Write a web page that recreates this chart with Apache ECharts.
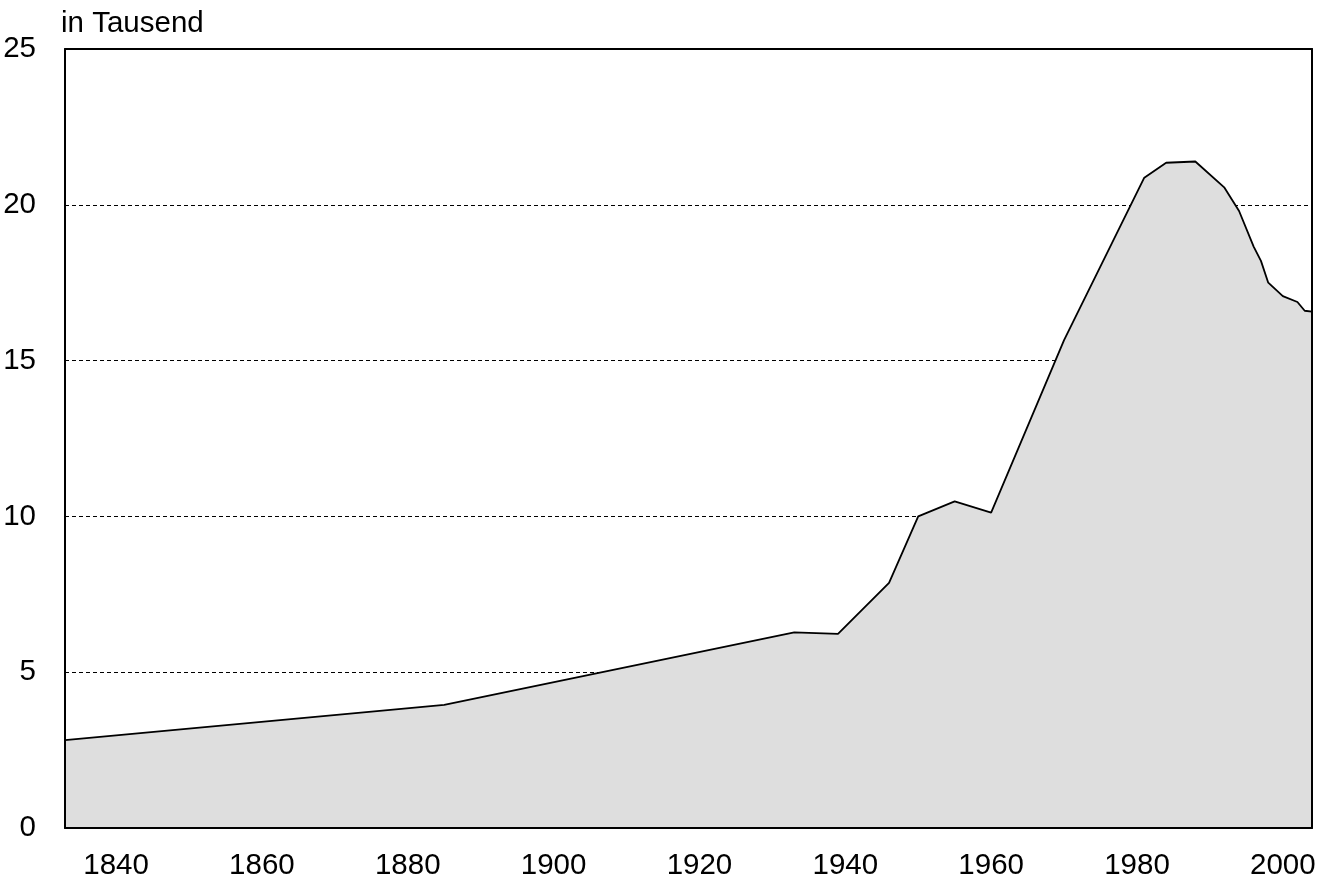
<!DOCTYPE html>
<html>
<head>
<meta charset="utf-8">
<script src="https://cdn.jsdelivr.net/npm/echarts@6/dist/echarts.min.js"></script>
<style>
  html, body { margin: 0; padding: 0; background: #fff; }
  #chart { width: 1320px; height: 885px; }
</style>
</head>
<body>
<div id="chart"></div>
<script>
// Werte (in Tausend)
const years = [1833, 1885, 1933, 1939, 1946, 1950, 1955, 1960, 1970, 1981, 1984, 1988,
  1992, 1994, 1996, 1997, 1998, 2000, 2002, 2003, 2004]
const values = [2.82, 3.95, 6.28, 6.23, 7.87, 10.0, 10.48, 10.12, 15.66, 20.87, 21.35, 21.39,
  20.55, 19.8, 18.66, 18.2, 17.5, 17.07, 16.88, 16.6, 16.57]
const xTicks = [1840, 1860, 1880, 1900, 1920, 1940, 1960, 1980, 2000]
const yTicks = [0, 5, 10, 15, 20, 25]

const font = "'Liberation Sans', Arial, sans-serif"
const frameLine = { show: true, onZero: false, lineStyle: { color: '#000', width: 2 } }

const chart = echarts.init(document.getElementById('chart'))

chart.setOption({
  animation: false,
  textStyle: { fontFamily: font },
  grid: { left: 65, right: 8, top: 49, bottom: 57 },
  xAxis: [
    {
      type: 'value',
      position: 'bottom',
      min: years[0],
      max: years[years.length - 1],
      z: 5,
      axisLine: frameLine,
      axisTick: { show: false },
      splitLine: { show: false },
      axisLabel: {
        customValues: xTicks,
        formatter: v => String(v),
        color: '#000',
        fontSize: 29.5,
        margin: 23,
        fontFamily: font,
      },
    },
    {
      type: 'value',
      position: 'top',
      min: years[0],
      max: years[years.length - 1],
      z: 5,
      axisLine: frameLine,
      axisTick: { show: false },
      axisLabel: { show: false },
      splitLine: { show: false },
    },
  ],
  yAxis: [
    {
      type: 'value',
      position: 'left',
      min: yTicks[0],
      max: yTicks[yTicks.length - 1],
      interval: 5,
      name: 'in Tausend',
      nameLocation: 'end',
      nameGap: 10,
      nameTextStyle: {
        color: '#000',
        fontSize: 29.5,
        fontFamily: font,
        align: 'left',
        padding: [0, 0, 0, -4],
      },
      axisLine: { show: false },
      axisTick: { show: false },
      axisLabel: { color: '#000', fontSize: 29.5, margin: 29, fontFamily: font },
      splitLine: { show: true, lineStyle: { color: '#000', width: 1, type: [4, 3] } },
    },
    {
      type: 'value',
      position: 'left',
      min: 0,
      max: 25,
      z: 5,
      axisLine: frameLine,
      axisTick: { show: false },
      axisLabel: { show: false },
      splitLine: { show: false },
    },
    {
      type: 'value',
      position: 'right',
      min: 0,
      max: 25,
      z: 5,
      axisLine: frameLine,
      axisTick: { show: false },
      axisLabel: { show: false },
      splitLine: { show: false },
    },
  ],
  series: [
    {
      type: 'line',
      data: years.map((y, i) => [y, values[i]]),
      showSymbol: false,
      lineStyle: { color: '#000', width: 1.8 },
      areaStyle: { color: '#dedede', opacity: 1 },
    },
  ],
})
</script>
</body>
</html>
